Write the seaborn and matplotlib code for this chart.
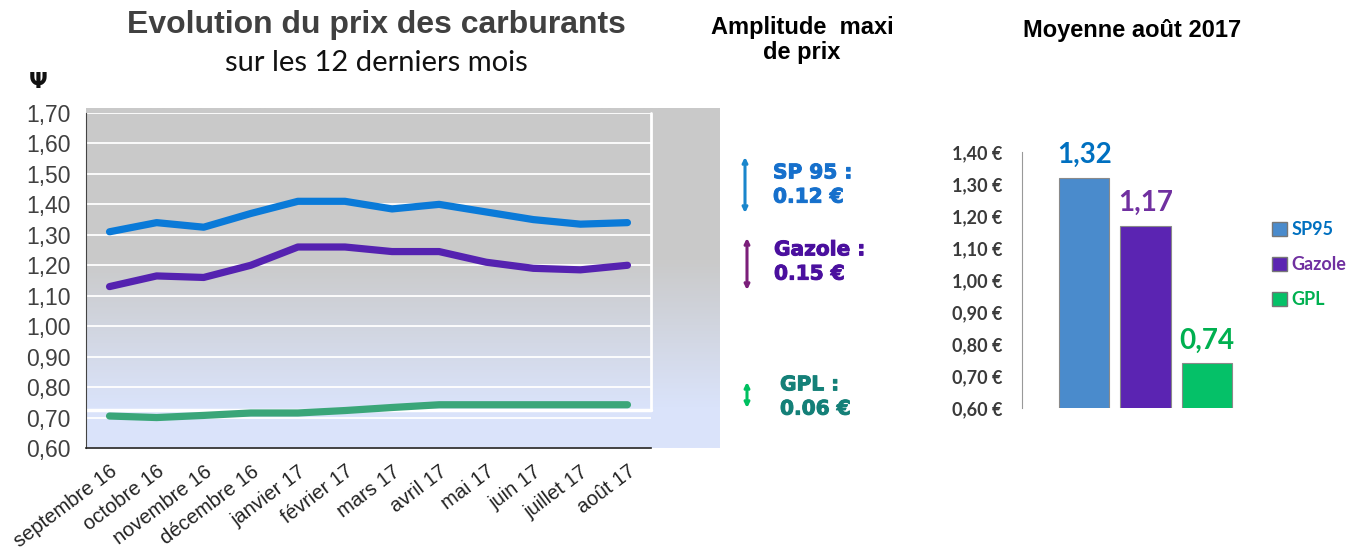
import matplotlib
matplotlib.use('Agg')
import matplotlib.pyplot as plt
import matplotlib.patheffects as pe
import seaborn as sns
import pandas as pd
import numpy as np
from matplotlib.colors import LinearSegmentedColormap
from matplotlib.patches import Patch

# Monthly prices
months = ['septembre 16', 'octobre 16', 'novembre 16', 'décembre 16', 'janvier 17', 'février 17',
          'mars 17', 'avril 17', 'mai 17', 'juin 17', 'juillet 17', 'août 17']
sp95 = [1.31, 1.34, 1.325, 1.37, 1.41, 1.41, 1.385, 1.40, 1.375, 1.35, 1.335, 1.34]
gazole = [1.13, 1.165, 1.16, 1.20, 1.26, 1.26, 1.245, 1.245, 1.21, 1.19, 1.185, 1.20]
gpl = [0.705, 0.70, 0.707, 0.715, 0.715, 0.723, 0.733, 0.742, 0.742, 0.742, 0.742, 0.742]

# Amplitude and August 2017 averages
amp_labels = ['SP 95 :\n0.12 €', 'Gazole :\n0.15 €', 'GPL :\n0.06 €']
fuels = ['SP95', 'Gazole', 'GPL']
moyenne = [1.32, 1.17, 0.74]

line_colors = ['#0a7ad8', '#5522b0', '#3aa679']
bar_colors = ['#4a8bcc', '#5b24b2', '#05c168']
label_colors = ['#0070c0', '#7030a0', '#00b050']
amp_text_colors = ['#1670cc', '#4a0f9e', '#148078']
arrow_colors = ['#1a86cc', '#7b1f7a', '#00c060']

sns.set_style('white')
plt.rcParams['font.family'] = ['Liberation Sans', 'DejaVu Sans']

W, H = 1363, 556
fig = plt.figure(figsize=(W / 100, H / 100), dpi=100)


def fx(x):
    return x / W


def fy(y):
    return 1 - y / H


# ---- left chart: background gradient ----
bg = fig.add_axes([fx(86), fy(448), fx(720) - fx(86), fy(108) - fy(448)], zorder=0)
cmap = LinearSegmentedColormap.from_list('bg', [(0, '#c9c9c9'), (0.45, '#cacaca'),
                                                (0.88, '#dae3fa'), (1, '#dbe4fb')])
bg.imshow(np.linspace(0, 1, 256).reshape(-1, 1), aspect='auto', cmap=cmap, extent=[0, 1, 0, 1])
bg.axis('off')

ax = fig.add_axes([fx(86), fy(448), fx(651) - fx(86), fy(113) - fy(448)], zorder=1)
ax.set_facecolor('none')

df = pd.DataFrame({
    'mois': list(range(len(months))) * 3,
    'prix': sp95 + gazole + gpl,
    'carburant': ['SP95'] * 12 + ['Gazole'] * 12 + ['GPL'] * 12,
})
sns.lineplot(data=df, x='mois', y='prix', hue='carburant', palette=line_colors,
             linewidth=5.2, legend=False, ax=ax, solid_capstyle='round', zorder=3)

ax.set_xlim(-0.5, 11.5)
ax.set_ylim(0.60, 1.70)
yt = np.round(np.arange(0.60, 1.701, 0.10), 2)
ax.set_yticks(yt)
ax.set_yticklabels([f'{v:.2f}'.replace('.', ',') for v in yt], fontsize=16.5, color='#404040')
ax.set_xticks(range(12))
ax.set_xticklabels(months, rotation=37, ha='right', rotation_mode='anchor',
                   fontsize=14.5, color='#222222')
ax.set_xticks(np.arange(-0.5, 12, 1), minor=True)
ax.tick_params(axis='x', which='major', length=0, pad=10)
ax.tick_params(axis='x', which='minor', length=6, color='#333333', width=1, direction='out')
ax.tick_params(axis='y', length=5, color='#333333', direction='out', pad=6)
ax.grid(axis='y', color='white', linewidth=1.3)
ax.set_axisbelow(True)
ax.set_xlabel('')
ax.set_ylabel('')
for s in ['top', 'right']:
    ax.spines[s].set_visible(False)
ax.spines['left'].set_color('#444444')
ax.spines['bottom'].set_color('#222222')
ax.spines['bottom'].set_linewidth(1.2)
# white frame of the back wall
ax.plot([1, 1], [0.113, 1], color='white', lw=2, transform=ax.transAxes, clip_on=False, zorder=2)
ax.plot([0, 1], [0.113, 0.113], color='white', lw=2.5, transform=ax.transAxes, clip_on=False, zorder=2)

fig.text(fx(38), fy(82), 'Ψ', fontsize=16, fontweight='bold', color='#111111',
         ha='center', va='center', family=['DejaVu Sans'])
fig.text(fx(376), fy(25), 'Evolution du prix des carburants', fontsize=23, fontweight='bold',
         color='#404040', ha='center', va='center')
fig.text(fx(376), fy(63), 'sur les 12 derniers mois', fontsize=21, color='#111111',
         ha='center', va='center', family=['Lato', 'DejaVu Sans'])

# ---- middle: amplitude ----
fig.text(fx(802), fy(40), 'Amplitude  maxi\nde prix', fontsize=17, fontweight='bold',
         color='black', ha='center', va='center', linespacing=1.1)
arrow_spans = [(157, 213), (238, 290), (382, 408)]
text_pos = [(773, 185), (774, 262), (780, 397)]
for lab, (y0, y1), (tx, ty), tc, ac, x_ar in zip(amp_labels, arrow_spans, text_pos,
                                                 amp_text_colors, arrow_colors, [745, 747, 747]):
    ax.annotate('', xy=(fx(x_ar), fy(y0)), xytext=(fx(x_ar), fy(y1)), xycoords='figure fraction',
                textcoords='figure fraction', annotation_clip=False,
                arrowprops=dict(arrowstyle='<->', color=ac, lw=2.2, mutation_scale=7,
                                shrinkA=0, shrinkB=0))
    fig.text(fx(tx), fy(ty), lab, fontsize=14.5, fontweight='bold', color=tc,
             ha='left', va='center', linespacing=1.35, family=['DejaVu Sans'],
             path_effects=[pe.withStroke(linewidth=0.7, foreground=tc)])

# ---- right chart: August average ----
bx = fig.add_axes([fx(1022), fy(408), fx(1236) - fx(1022), fy(152) - fy(408)])
bdf = pd.DataFrame({'carburant': fuels, 'prix': moyenne})
sns.barplot(data=bdf, x='carburant', y='prix', hue='carburant', palette=bar_colors,
            width=0.82, legend=False, ax=bx, edgecolor='#8a8a8a', linewidth=0.8, saturation=1)
bx.set_ylim(0.60, 1.40)
bx.set_xlim(-1.02, 2.48)
bt = np.round(np.arange(0.60, 1.401, 0.10), 2)
bx.set_yticks(bt)
bx.set_yticklabels([f'{v:.2f}'.replace('.', ',') + ' €' for v in bt], fontsize=13,
                   fontweight='bold', color='#3a3a3a', family=['Lato', 'DejaVu Sans'])
bx.tick_params(axis='y', length=4, color='#999999', pad=10)
bx.set_xticks([])
bx.set_xlabel('')
bx.set_ylabel('')
bx.set_facecolor('none')
for s in ['top', 'right', 'bottom']:
    bx.spines[s].set_visible(False)
bx.spines['left'].set_color('#999999')

for patch, val, col in zip(bx.patches, moyenne, label_colors):
    bx.text(patch.get_x() + patch.get_width() / 2, val + 0.03, f'{val:.2f}'.replace('.', ','),
            ha='center', va='bottom', fontsize=20, fontweight='bold', color=col,
            family=['Lato', 'DejaVu Sans'], clip_on=False)

handles = [Patch(facecolor=c, edgecolor='#777777') for c in bar_colors]
fig.legend(handles, fuels, loc='upper left', bbox_to_anchor=(fx(1256), fy(205)),
           frameon=False, labelcolor=label_colors, handlelength=0.8, handleheight=0.8,
           handletextpad=0.25, labelspacing=1.0,
           prop={'family': ['Lato', 'DejaVu Sans'], 'weight': 'bold', 'size': 13})

fig.text(fx(1132), fy(31), 'Moyenne août 2017', fontsize=17, fontweight='bold',
         color='black', ha='center', va='center')

fig.savefig('out.png', dpi=100)
